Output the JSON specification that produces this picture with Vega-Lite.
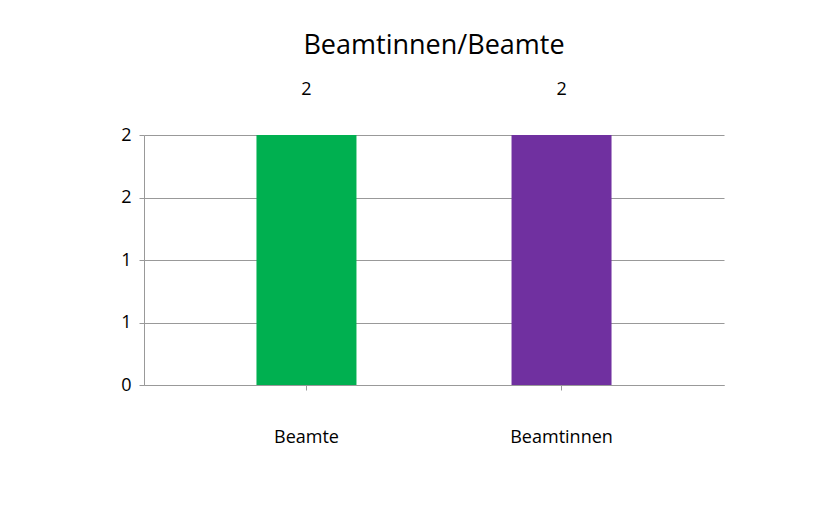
{
  "$schema": "https://vega.github.io/schema/vega-lite/v6.json",
  "width": 580,
  "height": 250,
  "padding": {"left": 120, "top": 32, "right": 90, "bottom": 60},
  "background": "white",
  "title": {"text": "Beamtinnen/Beamte", "font": "Open Sans", "fontSize": 27, "fontWeight": 500, "color": "#000000", "offset": 21},
  "data": {"values": [
    {"gruppe": "Beamte", "wert": 2},
    {"gruppe": "Beamtinnen", "wert": 2}
  ]},
  "encoding": {
    "x": {"field": "gruppe", "type": "nominal", "sort": null,
      "scale": {"paddingInner": 0, "paddingOuter": 0.137},
      "axis": {"title": null, "labelAngle": 0, "labelFont": "Open Sans", "labelFontSize": 18, "labelColor": "#000000", "domainColor": "#999999", "tickColor": "#999999", "labelPadding": 38}},
    "y": {"field": "wert", "type": "quantitative", "scale": {"domain": [0, 2]},
      "axis": {"title": null, "values": [0, 0.5, 1, 1.5, 2], "format": ".0f", "labelFont": "Open Sans", "labelFontSize": 18, "labelColor": "#000000", "domainColor": "#999999", "tickColor": "#999999", "gridColor": "#999999", "labelPadding": 8}}
  },
  "layer": [
    {"mark": {"type": "bar", "width": 100},
     "encoding": {"color": {"field": "gruppe", "type": "nominal", "scale": {"domain": ["Beamte", "Beamtinnen"], "range": ["#00B050", "#7030A0"]}, "legend": null}}},
    {"mark": {"type": "text", "dy": -45, "font": "Open Sans", "fontSize": 18, "color": "#000000"},
     "encoding": {"text": {"field": "wert", "type": "quantitative", "format": ".0f"}}}
  ],
  "config": {"view": {"stroke": null}}
}
